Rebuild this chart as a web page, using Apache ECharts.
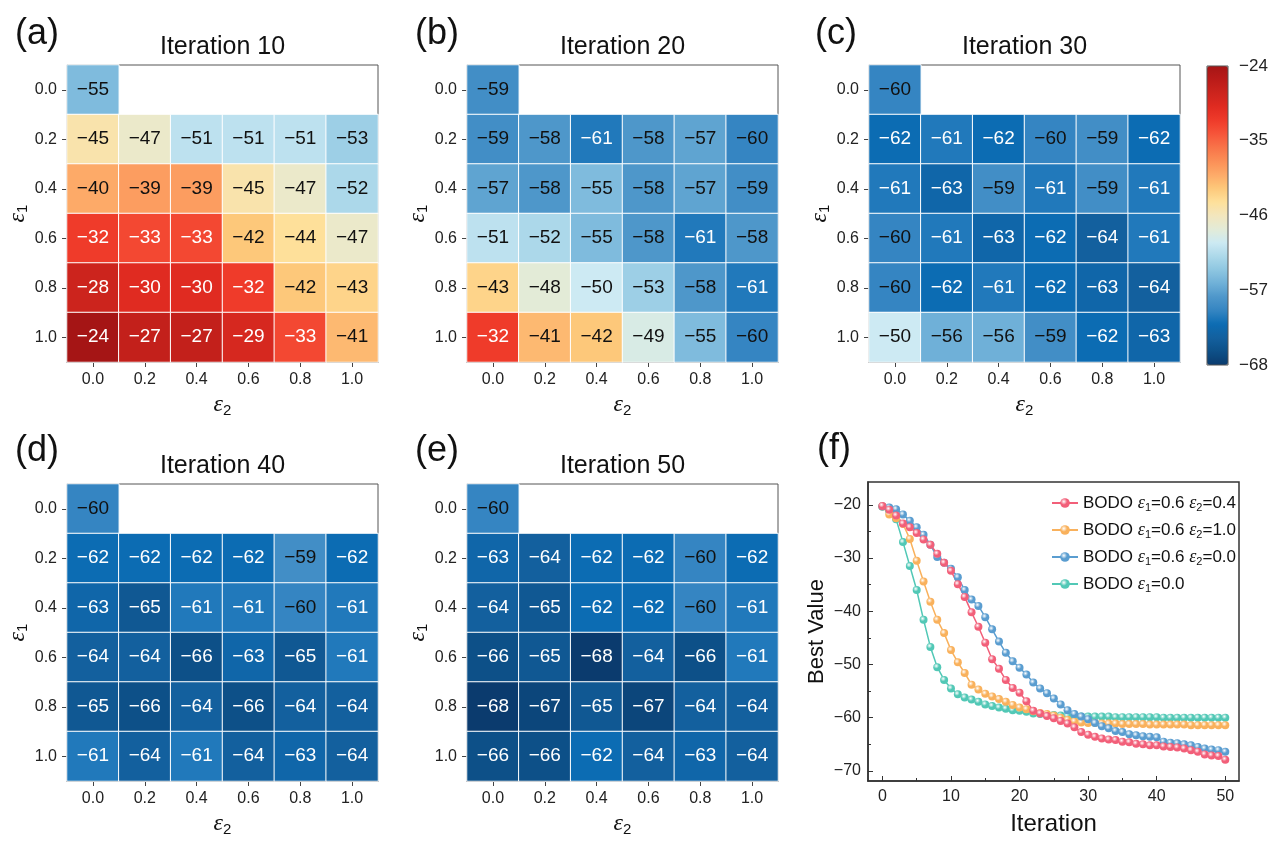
<!DOCTYPE html>
<html><head><meta charset="utf-8">
<script src="https://cdn.jsdelivr.net/npm/echarts@6/dist/echarts.min.js"></script>
<style>html,body{margin:0;padding:0;background:#fff}#c{width:1278px;height:842px}</style>
</head><body><div id="c"></div>
<script>
// ---------- DATA ----------
const eps2Labels = ['0.0','0.2','0.4','0.6','0.8','1.0'];
const eps1Labels = ['0.0','0.2','0.4','0.6','0.8','1.0'];
// rows: eps1 = 0.0 .. 1.0 ; columns: eps2 = 0.0 .. 1.0 (row 0.0 only has eps2 = 0.0)
const iter10 = [[-55],[-45,-47,-51,-51,-51,-53],[-40,-39,-39,-45,-47,-52],[-32,-33,-33,-42,-44,-47],[-28,-30,-30,-32,-42,-43],[-24,-27,-27,-29,-33,-41]];
const iter20 = [[-59],[-59,-58,-61,-58,-57,-60],[-57,-58,-55,-58,-57,-59],[-51,-52,-55,-58,-61,-58],[-43,-48,-50,-53,-58,-61],[-32,-41,-42,-49,-55,-60]];
const iter30 = [[-60],[-62,-61,-62,-60,-59,-62],[-61,-63,-59,-61,-59,-61],[-60,-61,-63,-62,-64,-61],[-60,-62,-61,-62,-63,-64],[-50,-56,-56,-59,-62,-63]];
const iter40 = [[-60],[-62,-62,-62,-62,-59,-62],[-63,-65,-61,-61,-60,-61],[-64,-64,-66,-63,-65,-61],[-65,-66,-64,-66,-64,-64],[-61,-64,-61,-64,-63,-64]];
const iter50 = [[-60],[-63,-64,-62,-62,-60,-62],[-64,-65,-62,-62,-60,-61],[-66,-65,-68,-64,-66,-61],[-68,-67,-65,-67,-64,-64],[-66,-66,-62,-64,-63,-64]];
const heatTitles = ['Iteration 10','Iteration 20','Iteration 30','Iteration 40','Iteration 50'];
const panelLetters = ['(a)','(b)','(c)','(d)','(e)','(f)'];
const colorbarTicks = [-68,-57,-46,-35,-24];

const lineNames = ['BODO ε1=0.6 ε2=0.4','BODO ε1=0.6 ε2=1.0','BODO ε1=0.6 ε2=0.0','BODO ε1=0.0'];
const bodo_e06_04 = [-20.2,-20.9,-22.0,-23.5,-24.2,-25.3,-26.5,-27.5,-29.2,-30.9,-32.4,-34.9,-37.3,-40.2,-42.9,-45.9,-49.0,-50.8,-52.9,-54.4,-55.3,-56.9,-58.7,-59.2,-59.7,-60.1,-60.6,-61.1,-61.8,-62.7,-63.2,-63.6,-63.9,-64.1,-64.2,-64.5,-64.6,-64.9,-65.0,-65.2,-65.2,-65.4,-65.5,-65.6,-65.8,-66.1,-66.4,-66.9,-67.1,-67.2,-67.9];
const bodo_e06_10 = [-20.3,-21.8,-22.5,-23.6,-26.4,-30.5,-34.4,-38.2,-41.6,-44.1,-47.3,-49.6,-51.6,-53.8,-54.7,-55.5,-56.0,-56.5,-57.0,-57.6,-58.1,-58.4,-58.8,-59.1,-59.3,-59.6,-60.0,-60.4,-60.7,-60.9,-61.0,-61.0,-61.1,-61.1,-61.1,-61.2,-61.2,-61.2,-61.2,-61.3,-61.3,-61.3,-61.3,-61.3,-61.3,-61.4,-61.4,-61.4,-61.4,-61.4,-61.4];
const bodo_e06_00 = [-20.3,-20.5,-20.8,-21.8,-23.0,-24.2,-25.6,-27.5,-29.8,-30.9,-32.0,-33.6,-36.0,-37.8,-39.0,-41.1,-43.4,-45.7,-47.8,-49.4,-50.6,-51.9,-53.4,-54.5,-55.4,-56.4,-57.5,-58.6,-59.3,-59.8,-60.3,-61.0,-61.6,-62.0,-62.5,-62.7,-63.1,-63.3,-63.5,-63.6,-63.7,-64.5,-64.7,-64.8,-65.0,-65.2,-65.5,-65.8,-66.0,-66.1,-66.4];
const bodo_e00 = [-20.3,-21.2,-22.7,-27.0,-31.5,-36.0,-41.6,-46.7,-50.5,-52.9,-54.5,-55.6,-56.2,-56.6,-57.0,-57.5,-57.8,-58.1,-58.3,-58.6,-58.7,-58.9,-59.2,-59.3,-59.5,-59.5,-59.6,-59.7,-59.7,-59.8,-59.8,-59.8,-59.8,-59.8,-59.9,-59.9,-59.9,-59.9,-59.9,-59.9,-59.9,-60.0,-60.0,-60.0,-60.0,-60.0,-60.0,-60.0,-60.0,-60.0,-60.0];
const iterTicks = [0,10,20,30,40,50];
const iterMinorTicks = [5,15,25,35,45];
const valueTicks = [-20,-30,-40,-50,-60,-70];
const valueMinorTicks = [-25,-35,-45,-55,-65];

// ---------- STYLE / LAYOUT ----------
const SANS = '"Liberation Sans", Arial, sans-serif';
const SERIF = '"Liberation Serif", "DejaVu Serif", serif';
const cmap = ['#0b3b6e','#0d5088','#13609e','#0c6cb3','#3585c2','#4e97ca','#6fb0d8','#8ec6e1','#acd8ea','#cdeaf3','#e3ebd7','#f3e6bd','#fee09a','#fdc87a','#fdaa68','#fb8f57','#f87449','#f6553a','#ef3b2a','#e02b21','#cc241d','#ba1b19','#a51515'];
const heatBoxes = [[67,65],[467,65],[869,65],[67,484],[467,484]];
const HW = 311, HH = 297;
const lineColors = ['#f25f79','#f9b15c','#5a9dd0','#52c8b6'];
const minus = v => (v < 0 ? '\u2212' : '') + Math.abs(v);
const epsRich = (sz, sub) => ({
  e: {fontFamily: SERIF, fontStyle: 'italic', fontSize: sz, color: '#111', verticalAlign: 'middle'},
  s: {fontFamily: SANS, fontSize: sub, color: '#111', padding: [Math.round(sub*0.8),0,0,0], verticalAlign: 'middle'},
  t: {fontFamily: SANS, fontSize: sz-1, color: '#111', verticalAlign: 'middle'}
});
const epsText = s => s.replace(/ε(\d)/g, '{e|ε}{s|$1}').replace(/(^|\})([^{]+)/g, (m,a,b)=> a + '{t|' + b + '}');

const heatData = [iter10, iter20, iter30, iter40, iter50];
const grids = [], xAxes = [], yAxes = [], series = [], graphics = [];

heatData.forEach((rows, p) => {
  const [L, T] = heatBoxes[p];
  grids.push({left: L, top: T, width: HW, height: HH, show: true, borderColor: '#555', borderWidth: 1});
  xAxes.push({
    type: 'category', gridIndex: p, data: eps2Labels,
    axisLine: {show: true, lineStyle: {color: '#444'}},
    axisTick: {show: true, alignWithLabel: true, length: 5, lineStyle: {color: '#444'}},
    axisLabel: {fontSize: 16, color: '#222', margin: 10, fontFamily: SANS},
    splitLine: {show: false},
    name: '{e|ε}{s|2}', nameLocation: 'middle', nameGap: 29,
    nameTextStyle: {rich: epsRich(24, 15)}
  });
  yAxes.push({
    type: 'category', gridIndex: p, data: eps1Labels, inverse: true,
    axisLine: {show: true, lineStyle: {color: '#444'}},
    axisTick: {show: true, alignWithLabel: true, length: 5, lineStyle: {color: '#444'}},
    axisLabel: {fontSize: 16, color: '#222', margin: 10, fontFamily: SANS},
    splitLine: {show: false},
    name: '{e|ε}{s|1}', nameLocation: 'middle', nameGap: 36,
    nameTextStyle: {rich: epsRich(24, 15)}
  });
  const d = [];
  rows.forEach((r, yi) => r.forEach((v, xi) => d.push([xi, yi, v])));
  series.push({
    type: 'heatmap', xAxisIndex: p, yAxisIndex: p, data: d,
    itemStyle: {borderColor: '#fff', borderWidth: 1},
    label: {show: true, fontFamily: SANS, fontSize: 19,
      formatter: q => { const v = q.value[2]; return ((v <= -61 || v >= -34) ? '{w|' : '{k|') + minus(v) + '}'; },
      rich: {w: {color: '#fff', fontSize: 19, fontFamily: SANS}, k: {color: '#111', fontSize: 19, fontFamily: SANS}}},
    emphasis: {disabled: true}
  });
  graphics.push({type: 'text', x: L + HW/2, y: T - 18,
    style: {text: heatTitles[p], fontSize: 25, fontFamily: SANS, fill: '#111', textAlign: 'center', textVerticalAlign: 'middle', align: 'center', verticalAlign: 'middle'}});
});

// colorbar label axis (grid 5)
grids.push({left: 1207, top: 66, width: 21, height: 299, show: true, borderColor: '#555', borderWidth: 1, z: 10});
xAxes.push({type: 'value', gridIndex: 5, show: false, min: 0, max: 1});
yAxes.push({type: 'value', gridIndex: 5, min: -68, max: -24, position: 'right',
  axisLine: {show: false}, axisTick: {show: false}, splitLine: {show: false},
  axisLabel: {customValues: colorbarTicks, fontSize: 17, color: '#222', margin: 11, fontFamily: SANS, formatter: v => minus(v)}});

// line chart (grid 6)
grids.push({left: 868, top: 482, width: 371, height: 299, show: true, borderColor: '#333', borderWidth: 1.5});
const xMain = xAxes.length;
xAxes.push({type: 'value', gridIndex: 6, min: -2.1, max: 52, position: 'bottom',
  axisLine: {show: true, onZero: false, lineStyle: {color: '#333', width: 1.5}},
  axisTick: {show: true, inside: true, length: 5, customValues: iterTicks, lineStyle: {color: '#333'}},
  axisLabel: {customValues: iterTicks, fontSize: 16, color: '#222', margin: 8, fontFamily: SANS},
  splitLine: {show: false},
  name: 'Iteration', nameLocation: 'middle', nameGap: 31,
  nameTextStyle: {fontSize: 24, color: '#111', fontFamily: SANS}});
xAxes.push({type: 'value', gridIndex: 6, min: -2.1, max: 52, position: 'bottom',
  axisLine: {show: false, onZero: false}, axisLabel: {show: false}, splitLine: {show: false},
  axisTick: {show: true, inside: true, length: 3, customValues: iterMinorTicks, lineStyle: {color: '#333'}}});
const yMain = yAxes.length;
yAxes.push({type: 'value', gridIndex: 6, min: -71.9, max: -15.7, position: 'left',
  axisLine: {show: true, onZero: false, lineStyle: {color: '#333', width: 1.5}},
  axisTick: {show: true, inside: true, length: 5, customValues: valueTicks, lineStyle: {color: '#333'}},
  axisLabel: {customValues: valueTicks, fontSize: 16, color: '#222', margin: 7, fontFamily: SANS, formatter: v => minus(v)},
  splitLine: {show: false},
  name: 'Best Value', nameLocation: 'middle', nameGap: 40,
  nameTextStyle: {fontSize: 22, color: '#111', fontFamily: SANS}});
yAxes.push({type: 'value', gridIndex: 6, min: -71.9, max: -15.7, position: 'left',
  axisLine: {show: false, onZero: false}, axisLabel: {show: false}, splitLine: {show: false},
  axisTick: {show: true, inside: true, length: 3, customValues: valueMinorTicks, lineStyle: {color: '#333'}}});

const lineData = [bodo_e06_04, bodo_e06_10, bodo_e06_00, bodo_e00];
const drawOrder = [3, 1, 2, 0];
drawOrder.forEach(k => {
  const c = lineColors[k];
  series.push({
    type: 'line', name: lineNames[k], xAxisIndex: xMain, yAxisIndex: yMain,
    data: lineData[k].map((v, i) => [i, v]),
    symbol: 'circle', symbolSize: 8, showAllSymbol: true,
    lineStyle: {color: c, width: 1.5},
    itemStyle: {color: {type: 'radial', x: 0.38, y: 0.35, r: 0.75,
      colorStops: [{offset: 0, color: '#ffffff'}, {offset: 0.45, color: c}, {offset: 1, color: c}]}},
    emphasis: {disabled: true}, animation: false
  });
});

// panel letters
const letterPos = [[15,34],[415,34],[815,34],[15,451],[415,451],[817,449]];
panelLetters.forEach((t, i) => graphics.push({type: 'text', x: letterPos[i][0], y: letterPos[i][1],
  style: {text: t, fontSize: 36, fontFamily: SANS, fill: '#111', textVerticalAlign: 'middle', verticalAlign: 'middle'}}));

const chart = echarts.init(document.getElementById('c'), null, {renderer: 'canvas'});
chart.setOption({
  animation: false,
  backgroundColor: '#fff',
  grid: grids, xAxis: xAxes, yAxis: yAxes, series: series,
  visualMap: [{type: 'continuous', min: -68, max: -24, dimension: 2, seriesIndex: [0,1,2,3,4],
    inRange: {color: cmap}, calculable: false, orient: 'vertical', left: 1207, top: 66,
    itemWidth: 21, itemHeight: 299, padding: 0, hoverLink: false, text: null}],
  legend: {data: lineNames, orient: 'vertical', left: 1046, top: 489, itemWidth: 26, itemHeight: 12, itemGap: 8,
    textStyle: {fontSize: 17, fontFamily: SANS, color: '#111', rich: epsRich(18, 11)},
    formatter: n => epsText(n)},
  graphic: graphics
});
</script></body></html>
